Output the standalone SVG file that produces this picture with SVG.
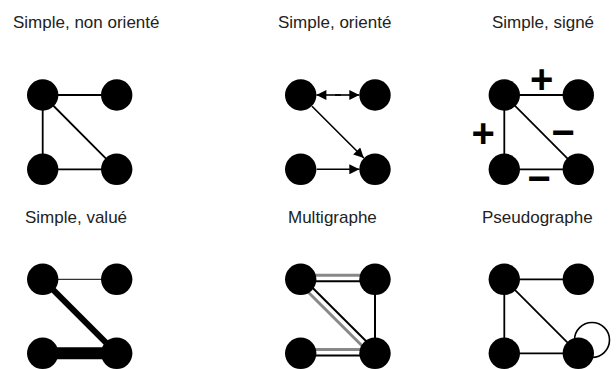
<svg xmlns="http://www.w3.org/2000/svg" width="616" height="369" viewBox="0 0 616 369">
<style>
.t{font-family:"Liberation Sans",Arial,sans-serif;font-size:17px;fill:#222}
.n{fill:#000}
.e{stroke:#000;fill:none}
.g{stroke:#888;fill:none}
.s{font-family:"Liberation Sans",Arial,sans-serif;font-size:40px;font-weight:bold;fill:#000;text-anchor:middle}
</style>
<defs>
<marker id="ah" viewBox="0 0 10 10" refX="10" refY="5" markerWidth="11" markerHeight="10" markerUnits="userSpaceOnUse" orient="auto">
<path d="M0,0 L10,5 L0,10 Z" fill="#000"/>
</marker>
</defs>
<g id="titles">
<text class="t" x="13" y="28">Simple, non orienté</text>
<text class="t" x="278" y="28">Simple, orienté</text>
<text class="t" x="492" y="28">Simple, signé</text>
<text class="t" x="25" y="223">Simple, valué</text>
<text class="t" x="288" y="223">Multigraphe</text>
<text class="t" x="482" y="223">Pseudographe</text>
</g>
<g id="connectors">
<!-- panel 1 -->
<line class="e" stroke-width="1.8" x1="42.7" y1="95" x2="116.7" y2="95"/>
<line class="e" stroke-width="1.8" x1="42.7" y1="95" x2="42.7" y2="169.3"/>
<line class="e" stroke-width="1.8" x1="42.7" y1="95" x2="116.7" y2="169.3"/>
<line class="e" stroke-width="1.8" x1="42.7" y1="169.3" x2="116.7" y2="169.3"/>
<!-- panel 2 -->
<line class="e" stroke-width="1.6" x1="335" y1="95" x2="359.3" y2="95" marker-end="url(#ah)"/>
<line class="e" stroke-width="1.6" x1="341" y1="95" x2="316.4" y2="95" marker-end="url(#ah)"/>
<line class="e" stroke-width="1.6" x1="312" y1="106.3" x2="363.8" y2="158" marker-end="url(#ah)"/>
<line class="e" stroke-width="1.6" x1="316.7" y1="169.3" x2="359.3" y2="169.3" marker-end="url(#ah)"/>
<!-- panel 3 -->
<line class="e" stroke-width="1.8" x1="504.3" y1="95" x2="578.3" y2="95"/>
<line class="e" stroke-width="1.8" x1="504.3" y1="95" x2="504.3" y2="169.3"/>
<line class="e" stroke-width="1.8" x1="504.3" y1="95" x2="578.3" y2="169.3"/>
<line class="e" stroke-width="1.8" x1="504.3" y1="169.3" x2="578.3" y2="169.3"/>
<!-- panel 4 -->
<line class="e" stroke-width="1" x1="42.7" y1="279.3" x2="116.7" y2="279.3"/>
<line class="e" stroke-width="6" x1="42.7" y1="279.3" x2="116.7" y2="353.3"/>
<line class="e" stroke-width="12" x1="42.7" y1="353.3" x2="116.7" y2="353.3"/>
<!-- panel 5 -->
<line class="g" stroke-width="3" x1="300.7" y1="275.3" x2="375" y2="275.3"/>
<line class="e" stroke-width="2" x1="300.7" y1="281.3" x2="375" y2="281.3"/>
<line class="g" stroke-width="3" x1="298" y1="282" x2="372.3" y2="356"/>
<line class="e" stroke-width="2" x1="302.7" y1="278" x2="377" y2="352"/>
<line class="e" stroke-width="2" x1="375" y1="279.3" x2="375" y2="353.3"/>
<line class="g" stroke-width="3" x1="300.7" y1="349.5" x2="375" y2="349.5"/>
<line class="e" stroke-width="2" x1="300.7" y1="355.5" x2="375" y2="355.5"/>
<!-- panel 6 -->
<line class="e" stroke-width="1.8" x1="504.3" y1="279.3" x2="578.3" y2="279.3"/>
<line class="e" stroke-width="1.8" x1="504.3" y1="279.3" x2="504.3" y2="353.3"/>
<line class="e" stroke-width="1.8" x1="504.3" y1="279.3" x2="578.3" y2="353.3"/>
<line class="e" stroke-width="1.8" x1="504.3" y1="353.3" x2="578.3" y2="353.3"/>
<circle class="e" stroke-width="1.6" cx="592" cy="340" r="17.5"/>
</g>
<g id="signs">
<text class="s" x="541.7" y="93">+</text>
<text class="s" x="483.3" y="146.5">+</text>
<text class="s" x="563" y="145.7">−</text>
<text class="s" x="539" y="192.3">−</text>
</g>
<g id="p1"><circle class="n" cx="42.7" cy="95" r="15.7"/><circle class="n" cx="116.7" cy="95" r="15.7"/><circle class="n" cx="42.7" cy="169.3" r="15.7"/><circle class="n" cx="116.7" cy="169.3" r="15.7"/></g>
<g id="p2"><circle class="n" cx="300.7" cy="95" r="15.7"/><circle class="n" cx="375" cy="95" r="15.7"/><circle class="n" cx="300.7" cy="169.3" r="15.7"/><circle class="n" cx="375" cy="169.3" r="15.7"/></g>
<g id="p3"><circle class="n" cx="504.3" cy="95" r="15.7"/><circle class="n" cx="578.3" cy="95" r="15.7"/><circle class="n" cx="504.3" cy="169.3" r="15.7"/><circle class="n" cx="578.3" cy="169.3" r="15.7"/></g>
<g id="p4"><circle class="n" cx="42.7" cy="279.3" r="15.7"/><circle class="n" cx="116.7" cy="279.3" r="15.7"/><circle class="n" cx="42.7" cy="353.3" r="15.7"/><circle class="n" cx="116.7" cy="353.3" r="15.7"/></g>
<g id="p5"><circle class="n" cx="300.7" cy="279.3" r="15.7"/><circle class="n" cx="375" cy="279.3" r="15.7"/><circle class="n" cx="300.7" cy="353.3" r="15.7"/><circle class="n" cx="375" cy="353.3" r="15.7"/></g>
<g id="p6"><circle class="n" cx="504.3" cy="279.3" r="15.7"/><circle class="n" cx="578.3" cy="279.3" r="15.7"/><circle class="n" cx="504.3" cy="353.3" r="15.7"/><circle class="n" cx="578.3" cy="353.3" r="15.7"/></g>
</svg>
